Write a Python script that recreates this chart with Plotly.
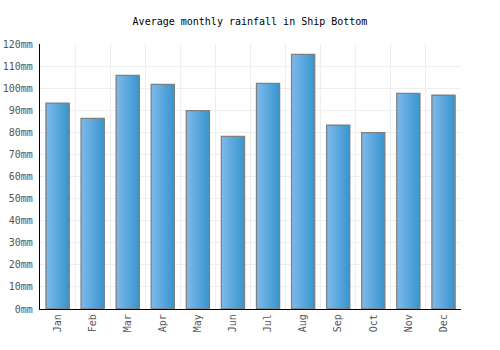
import plotly.graph_objects as go

months = ["Jan", "Feb", "Mar", "Apr", "May", "Jun", "Jul", "Aug", "Sep", "Oct", "Nov", "Dec"]
rainfall = [93.2, 86.3, 105.8, 101.7, 89.8, 78.2, 102.2, 115.3, 83.2, 79.9, 97.6, 96.8]
ytick_vals = list(range(0, 121, 10))
ytick_text = [f"{v}mm" for v in ytick_vals]

W = 0.66
N = 16
c0 = (124, 185, 235)
c1 = (58, 150, 207)

fig = go.Figure()
for k in range(N):
    t = k / (N - 1)
    col = tuple(round(c0[i] + (c1[i] - c0[i]) * t) for i in range(3))
    off = -W / 2 + k * W / N
    fig.add_trace(go.Bar(
        x=months, y=rainfall, width=W - k * W / N, offset=off,
        marker=dict(color=f"rgb{col}", line=dict(width=0)),
        hoverinfo="skip", showlegend=False,
    ))
fig.add_trace(go.Bar(
    x=months, y=rainfall, width=W, offset=-W / 2,
    marker=dict(color="rgba(0,0,0,0)", line=dict(color="#808080", width=1.3)),
    showlegend=False,
))

mono = "DejaVu Sans Mono"
fig.update_layout(
    width=500, height=350, barmode="overlay",
    margin=dict(l=40, r=39, t=44, b=41, autoexpand=False),
    paper_bgcolor="white", plot_bgcolor="white",
    title=dict(text="Average monthly rainfall in Ship Bottom", x=0.5, xanchor="center",
               y=0.94, yanchor="middle", font=dict(family=mono, size=10, color="black")),
    xaxis=dict(type="category", tickson="boundaries", showgrid=True, gridcolor="#eeeeee",
               gridwidth=1, showline=True, linecolor="black", linewidth=1.3,
               tickangle=-90, ticks="", automargin=False,
               tickfont=dict(family=mono, size=10, color="#555555"),
               range=[-0.5, 11.5]),
    yaxis=dict(range=[0, 120], tickvals=ytick_vals, ticktext=ytick_text, showgrid=True,
               gridcolor="#eeeeee", gridwidth=1, showline=True, linecolor="black", linewidth=1.3,
               zeroline=False, ticks="", automargin=False, ticklabelstandoff=4,
               tickfont=dict(family=mono, size=10, color="#555555")),
)
fig.write_html("out.html")
